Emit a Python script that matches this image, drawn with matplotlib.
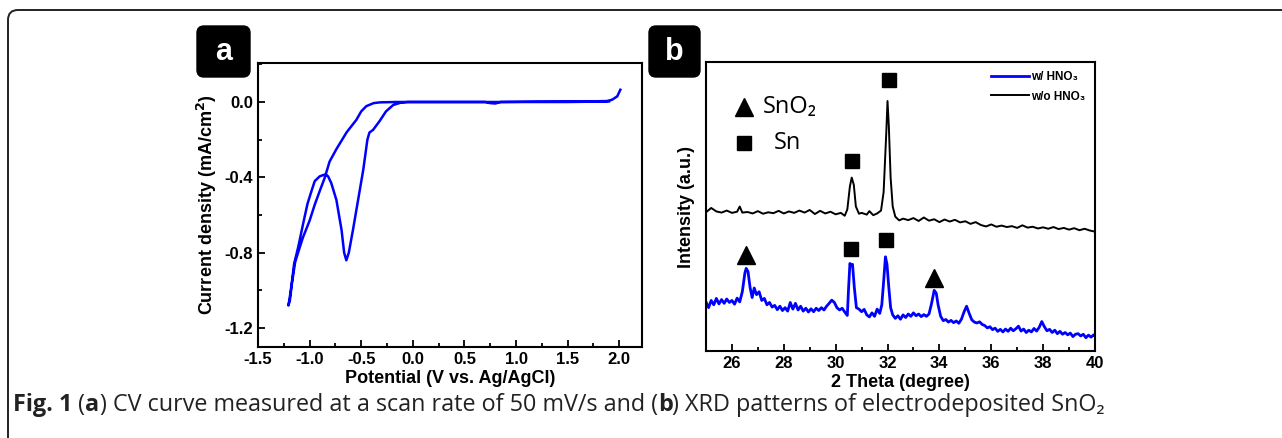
import matplotlib
matplotlib.use('Agg')
from matplotlib import pyplot as plt
from matplotlib.patches import FancyBboxPatch
from matplotlib.ticker import MultipleLocator

# (a) CV curve, points in scan order (V vs Ag/AgCl, mA/cm2)
cv_potential = [2.01, 1.98, 1.93, 1.88, 1.7, 1.2, 0.85, 0.8, 0.75, 0.7, 0.3, -0.05,
                -0.12, -0.19, -0.26, -0.32, -0.385, -0.42, -0.44, -0.46, -0.48, -0.53,
                -0.58, -0.62, -0.644, -0.665, -0.69, -0.74, -0.79, -0.82, -0.84, -0.87,
                -0.903, -0.95, -0.98, -1.02, -1.06, -1.11, -1.15, -1.17, -1.19, -1.205,
                -1.19, -1.17, -1.14, -1.10, -1.065, -1.0, -0.95, -0.90, -0.855, -0.806,
                -0.74, -0.64, -0.547, -0.50, -0.45, -0.38, -0.32, -0.16, 0.5, 1.5, 1.9]
cv_current = [0.065, 0.03, 0.012, 0.005, 0.003, 0.002, 0.0, -0.008, -0.006, 0.0, 0.0, 0.0,
              -0.004, -0.016, -0.05, -0.10, -0.148, -0.162, -0.20, -0.28, -0.36, -0.52,
              -0.68, -0.80, -0.84, -0.80, -0.68, -0.52, -0.43, -0.395, -0.385, -0.388,
              -0.395, -0.42, -0.47, -0.54, -0.64, -0.77, -0.86, -0.95, -1.03, -1.08,
              -1.05, -0.96, -0.85, -0.78, -0.72, -0.63, -0.545, -0.47, -0.405, -0.316,
              -0.25, -0.16, -0.095, -0.05, -0.022, -0.006, -0.002, 0.0, 0.0, 0.0, 0.003]

# (b) XRD, w/o HNO3 (black)
xrd_wo_theta = [25.0, 25.2, 25.4, 25.6, 25.8, 26.0, 26.2, 26.3, 26.4, 26.6, 26.8, 27.0, 27.2,
                27.4, 27.6, 27.8, 28.0, 28.2, 28.4, 28.6, 28.8, 29.0, 29.2, 29.4, 29.6, 29.8,
                30.0, 30.2, 30.35, 30.45, 30.55, 30.62, 30.7, 30.78, 30.9, 31.0, 31.2, 31.3,
                31.45, 31.6, 31.75, 31.85, 31.95, 32.0, 32.05, 32.12, 32.2, 32.3, 32.45, 32.6,
                32.8, 33.0, 33.2, 33.4, 33.6, 33.8, 34.0, 34.2, 34.4, 34.6, 34.8, 35.0, 35.2,
                35.4, 35.6, 35.8, 36.0, 36.2, 36.4, 36.6, 36.8, 37.0, 37.2, 37.4, 37.6, 37.8,
                38.0, 38.2, 38.4, 38.6, 38.8, 39.0, 39.2, 39.4, 39.6, 39.8, 40.0]
xrd_wo_int = [48.0, 49.5, 48.3, 47.9, 48.6, 47.8, 48.2, 50.0, 47.9, 48.1, 47.6, 48.4, 47.5,
              48.0, 47.7, 48.5, 47.6, 48.3, 47.8, 48.6, 47.9, 48.8, 47.4, 48.5, 47.6, 48.2,
              47.3, 47.8, 46.8, 49.0, 57.0, 60.0, 57.5, 50.0, 47.5, 47.8, 47.2, 48.4,
              47.0, 47.6, 48.6, 55.0, 75.0, 86.5, 78.0, 60.0, 50.0, 46.5, 45.2, 45.8,
              45.3, 46.0, 45.0, 46.2, 45.1, 45.6, 44.6, 45.5, 44.8, 45.4, 44.5, 44.9, 44.0,
              44.6, 43.6, 43.1, 43.8, 43.0, 43.4, 42.9, 43.2, 42.6, 43.5, 42.7, 43.0, 42.4,
              42.8, 42.3, 42.9, 42.2, 42.6, 42.0, 42.5, 41.8, 42.3, 41.7, 41.3]

# (b) XRD, w/ HNO3 (blue)
xrd_w_theta = [25.0, 25.1, 25.2, 25.3, 25.4, 25.5, 25.6, 25.7, 25.8, 25.9, 26.0, 26.1, 26.2,
               26.3, 26.4, 26.5, 26.55, 26.62, 26.7, 26.78, 26.86, 26.95, 27.05, 27.15, 27.25,
               27.35, 27.45, 27.55, 27.65, 27.75, 27.85, 27.95, 28.05, 28.15, 28.25, 28.35,
               28.45, 28.55, 28.65, 28.75, 28.85, 28.95, 29.05, 29.15, 29.25, 29.35, 29.45,
               29.55, 29.65, 29.75, 29.85, 29.95, 30.05, 30.15, 30.25, 30.35, 30.45, 30.5,
               30.55, 30.6, 30.65, 30.72, 30.8, 30.9, 31.0, 31.1, 31.2, 31.3, 31.4, 31.5, 31.6,
               31.7, 31.78, 31.85, 31.92, 31.98, 32.05, 32.12, 32.2, 32.3, 32.4, 32.5, 32.6,
               32.7, 32.8, 32.9, 33.0, 33.1, 33.2, 33.3, 33.4, 33.5, 33.6, 33.7, 33.8, 33.88,
               33.95, 34.05, 34.15, 34.25, 34.35, 34.45, 34.55, 34.65, 34.75, 34.85, 34.95,
               35.05, 35.15, 35.25, 35.35, 35.45, 35.55, 35.65, 35.75, 35.85, 35.95, 36.05,
               36.15, 36.25, 36.35, 36.45, 36.55, 36.65, 36.75, 36.85, 36.95, 37.05, 37.15,
               37.25, 37.35, 37.45, 37.55, 37.65, 37.75, 37.85, 37.95, 38.05, 38.15, 38.25,
               38.35, 38.45, 38.55, 38.65, 38.75, 38.85, 38.95, 39.05, 39.15, 39.25, 39.35,
               39.45, 39.55, 39.65, 39.75, 39.85, 39.95, 40.0]
xrd_w_int = [17.0, 15.0, 17.5, 16.0, 18.2, 16.3, 17.8, 16.5, 18.0, 16.8, 17.5, 16.2, 18.3,
             17.0, 20.5, 27.0, 28.6, 27.5, 22.0, 18.5, 21.8, 19.5, 20.5, 17.5, 18.2,
             16.0, 16.8, 15.2, 15.8, 14.3, 15.5, 14.0, 15.0, 13.8, 16.8, 14.5,
             16.5, 14.2, 15.5, 13.8, 14.8, 13.5, 14.6, 13.6, 14.8, 14.0, 15.0,
             14.2, 15.5, 16.5, 17.6, 16.8, 15.0, 14.2, 14.8, 13.5, 12.3, 22.0,
             30.3, 29.5, 30.0, 22.0, 15.0, 14.5, 13.6, 14.4, 12.5, 11.8, 13.2, 12.0, 14.5,
             13.0, 16.0, 24.0, 32.6, 30.0, 22.0, 15.0, 12.5, 11.3, 12.2, 11.0, 12.5,
             11.6, 12.8, 12.0, 13.2, 12.2, 12.8, 11.9, 12.6, 12.0, 12.8, 16.5, 21.0, 20.0,
             16.0, 12.0, 10.5, 10.9, 10.0, 10.6, 9.8, 10.4, 9.6, 11.0, 13.5,
             15.5, 13.0, 10.8, 10.0, 9.7, 10.1, 9.2, 8.8, 8.0, 8.4, 7.4,
             7.9, 6.8, 7.5, 6.6, 7.6, 6.8, 7.9, 7.0, 7.7, 8.6, 6.9,
             7.6, 6.4, 7.2, 6.6, 7.8, 6.9, 8.2, 10.2, 8.4, 7.0, 7.5,
             6.4, 7.2, 6.0, 6.8, 5.8, 6.4, 5.6, 6.2, 5.0, 5.8, 6.0,
             5.2, 5.8, 4.6, 5.5, 4.8, 5.6, 5.2]

# peak markers
sno2_theta = [26.55, 33.8]
sno2_y = [33.2, 25.1]
sn_theta = [30.6, 31.95, 30.62, 32.05]
sn_y = [35.2, 38.4, 65.7, 93.8]

plt.rcParams['font.family'] = ['Liberation Sans', 'DejaVu Sans']
plt.rcParams['font.weight'] = 'bold'
plt.rcParams['axes.labelweight'] = 'bold'
plt.rcParams['axes.linewidth'] = 1.5

fig = plt.figure(figsize=(12.82, 4.38), dpi=100)

# outer rounded frame (open to the right and bottom)
frame = FancyBboxPatch((8, -40), 1320, 468, boxstyle='round,pad=0,rounding_size=10',
                       transform=None, fill=False, edgecolor='#222222', linewidth=1.4)
fig.add_artist(frame)

# ---- panel a ----
ax1 = fig.add_axes([0.2012, 0.2078, 0.2996, 0.6484])
ax1.plot(cv_potential, cv_current, color='#0000ff', linewidth=1.8)
ax1.set_xlim(-1.5, 2.22)
ax1.set_ylim(-1.30, 0.207)
ax1.xaxis.set_major_locator(MultipleLocator(0.5))
ax1.xaxis.set_minor_locator(MultipleLocator(0.25))
ax1.yaxis.set_major_locator(MultipleLocator(0.4))
ax1.yaxis.set_minor_locator(MultipleLocator(0.2))
ax1.tick_params(which='both', direction='in', top=False, right=False, labelsize=12, width=1.3)
ax1.tick_params(which='major', length=5)
ax1.tick_params(which='minor', length=3)
ax1.set_xticks([-1.5, -1.0, -0.5, 0.0, 0.5, 1.0, 1.5, 2.0])
ax1.set_xticklabels(['-1.5', '-1.0', '-0.5', '0.0', '0.5', '1.0', '1.5', '2.0'])
ax1.set_yticks([0.0, -0.4, -0.8, -1.2])
ax1.set_yticklabels(['0.0', '-0.4', '-0.8', '-1.2'])
ax1.set_xlabel('Potential (V vs. Ag/AgCl)', fontsize=13, fontweight='bold', labelpad=2)
ax1.set_ylabel('Current density (mA/cm$^\\mathbf{2}$)', fontsize=13, fontweight='bold',
               labelpad=4)

# ---- panel b ----
ax2 = fig.add_axes([0.5507, 0.1986, 0.3034, 0.6598])
ax2.plot(xrd_w_theta, xrd_w_int, color='#0000ff', linewidth=2.0, label='w/ HNO₃')
ax2.plot(xrd_wo_theta, xrd_wo_int, color='black', linewidth=1.4, label='w/o HNO₃')
ax2.plot(sno2_theta, sno2_y, linestyle='none', marker='^', markersize=13, color='black')
ax2.plot(sn_theta, sn_y, linestyle='none', marker='s', markersize=10, color='black')
ax2.set_xlim(25, 40)
ax2.set_ylim(0, 100)
ax2.xaxis.set_major_locator(MultipleLocator(2))
ax2.xaxis.set_minor_locator(MultipleLocator(1))
ax2.tick_params(axis='x', which='both', direction='in', top=False, labelsize=12, width=1.3)
ax2.tick_params(axis='x', which='major', length=5)
ax2.tick_params(axis='x', which='minor', length=3)
ax2.set_yticks([])
ax2.set_xlabel('2 Theta (degree)', fontsize=13, fontweight='bold', labelpad=2)
ax2.set_ylabel('Intensity (a.u.)', fontsize=13, fontweight='bold', labelpad=8)
ax2.legend(loc='upper right', frameon=False, handlelength=3.2, handletextpad=0.2,
           labelspacing=0.6, borderaxespad=0.4, prop={'size': 8.5, 'weight': 'bold'})

# marker key inside panel b
ax2.plot([26.47], [84.3], linestyle='none', marker='^', markersize=13, color='black')
ax2.plot([26.47], [72.0], linestyle='none', marker='s', markersize=10, color='black')
ax2.text(27.2, 84.3, 'SnO₂', fontsize=17, fontweight='normal', va='center',
         family=['Open Sans', 'DejaVu Sans'])
ax2.text(27.6, 72.0, 'Sn', fontsize=17, fontweight='normal', va='center',
         family=['Open Sans', 'DejaVu Sans'])

# panel letters in black rounded boxes
for x0, w, letter in [(197, 53, 'a'), (649, 51, 'b')]:
    box = FancyBboxPatch((x0, 361), w, 51, boxstyle='round,pad=0,rounding_size=7',
                         transform=None, facecolor='black', edgecolor='black')
    fig.add_artist(box)
    fig.text((x0 + w / 2) / 1282, 386 / 438, letter, color='white', fontsize=22,
             fontweight='bold', ha='center', va='center')

# caption with mixed bold pieces
pieces = [('Fig. 1', 'bold'), (' (', 'normal'), ('a', 'bold'),
          (') CV curve measured at a scan rate of 50 mV/s and (', 'normal'),
          ('b', 'bold'), (') XRD patterns of electrodeposited SnO₂', 'normal')]
fig.canvas.draw()
renderer = fig.canvas.get_renderer()
xpos = 13
for txt, wt in pieces:
    t = fig.text(xpos / 1282, 33 / 438, txt, fontsize=16.8, fontweight=wt, color='#222222',
                 va='center', ha='left', family=['Open Sans', 'DejaVu Sans'])
    bb = t.get_window_extent(renderer=renderer)
    xpos = xpos + bb.width

plt.savefig('out.png', dpi=100)
